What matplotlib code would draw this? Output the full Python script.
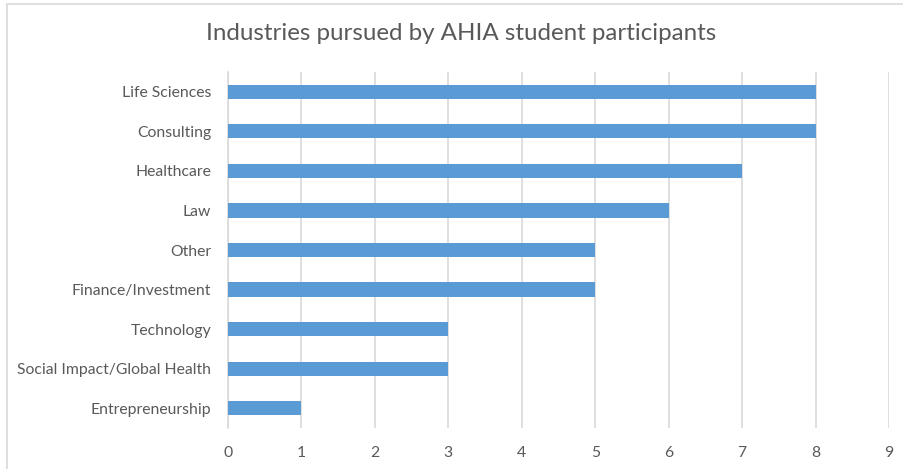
import matplotlib.pyplot as plt
from matplotlib.patches import Rectangle

plt.rcParams['font.family'] = ['Lato', 'DejaVu Sans']

industries = ["Entrepreneurship", "Social Impact/Global Health", "Technology",
              "Finance/Investment", "Other", "Law", "Healthcare", "Consulting",
              "Life Sciences"]
counts = [1, 3, 3, 5, 5, 6, 7, 8, 8]
x_ticks = list(range(0, 10))

text_color = "#595959"
bar_color = "#5B9BD5"
grid_color = "#D9D9D9"

fig = plt.figure(figsize=(9.04, 4.69), dpi=100)
ax = fig.add_axes([228 / 904, 1 - 428 / 469, (889 - 228) / 904, (428 - 72) / 469])

# chart border (cut off on the right and bottom like the reference)
fig.patches.append(Rectangle((7 / 904, -0.1), 1.2, (465 / 469) + 0.1,
                             transform=fig.transFigure, fill=False,
                             edgecolor=grid_color, linewidth=1.2))

ax.barh(range(len(industries)), counts, height=0.36, color=bar_color, zorder=3)

ax.set_xlim(0, 9)
ax.set_ylim(-0.5, len(industries) - 0.5)
ax.set_xticks(x_ticks)
ax.set_yticks(range(len(industries)))
ax.set_yticklabels(industries)
ax.xaxis.grid(True, color=grid_color, linewidth=1.2, zorder=0)

for side in ["top", "right", "bottom"]:
    ax.spines[side].set_visible(False)
ax.spines["left"].set_color(grid_color)
ax.spines["left"].set_linewidth(1.2)

ax.tick_params(axis="both", length=0, labelsize=11.3, colors=text_color)
ax.tick_params(axis="x", pad=13)
ax.tick_params(axis="y", pad=12)

fig.text(0.5 * (205 + 718) / 904, 1 - 34 / 469, "Industries pursued by AHIA student participants",
         ha="center", va="center", fontsize=17.4, color=text_color)

fig.savefig("out.png", dpi=100)
